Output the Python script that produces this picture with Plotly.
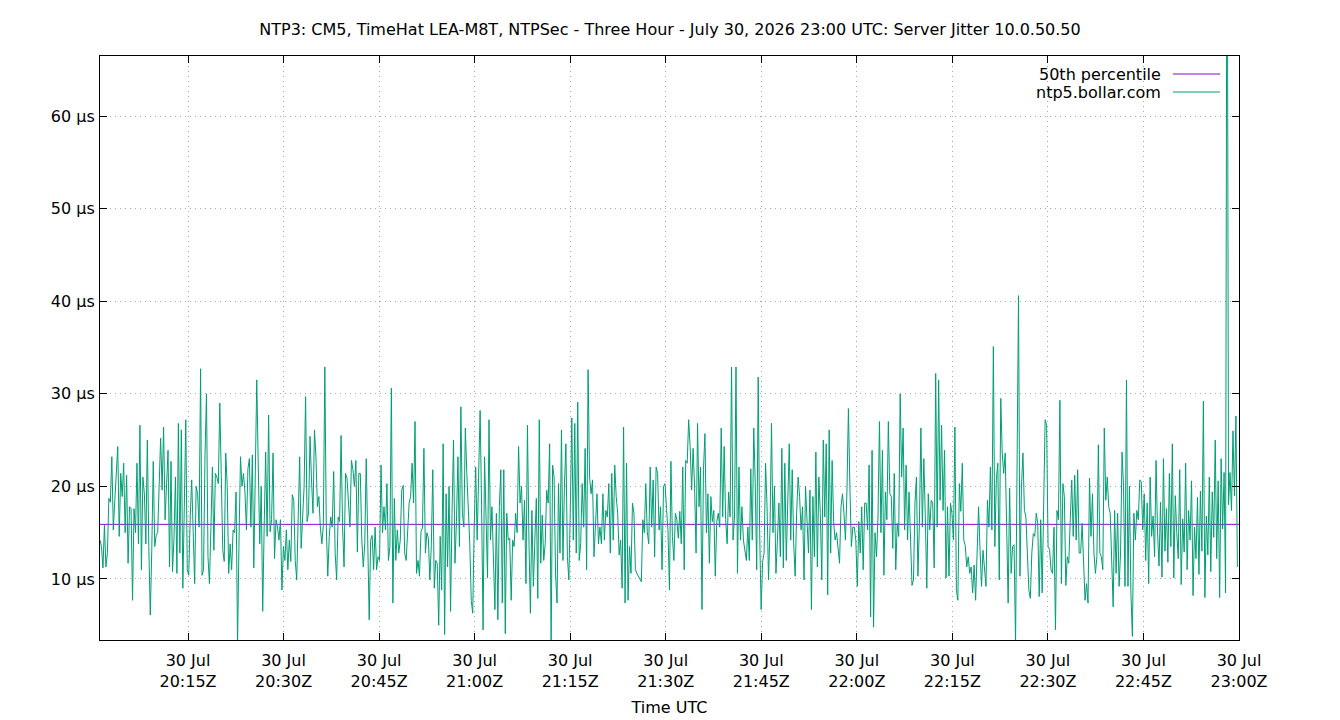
import numpy as np
import pandas as pd
import plotly.graph_objects as go

TITLE = "NTP3: CM5, TimeHat LEA-M8T, NTPSec - Three Hour - July 30, 2026 23:00 UTC: Server Jitter 10.0.50.50"
SERIES_NAME = "ntp5.bollar.com"
P50_NAME = "50th percentile"
P50_VALUE = 15.9
START = "2026-07-30 20:01:11"
END = "2026-07-30 23:00:00"
TICK_TIMES = ["2026-07-30 20:15", "2026-07-30 20:30", "2026-07-30 20:45", "2026-07-30 21:00",
              "2026-07-30 21:15", "2026-07-30 21:30", "2026-07-30 21:45", "2026-07-30 22:00",
              "2026-07-30 22:15", "2026-07-30 22:30", "2026-07-30 22:45", "2026-07-30 23:00"]
TICK_LABELS = ["30 Jul<br>" + t[-5:] + "Z" for t in TICK_TIMES]
Y_TICKS = [10, 20, 30, 40, 50, 60]
Y_LABELS = [f"{v} µs" for v in Y_TICKS]

jitter_a = [14.2, 13.5, 11.2, 15.8, 11.3, 12.8, 18.7, 18.3, 23.2, 15.3, 18.5, 21.4, 24.3, 14.6, 21.4, 18.9,
            22.5, 15.0, 21.2, 11.7, 17.8, 17.6, 7.7, 17.6, 15.0, 22.5, 13.8, 26.6, 11.0, 21.0, 19.2, 13.8,
            25.0, 13.5, 6.1, 13.1, 22.7, 13.5, 14.7, 15.0, 21.6, 25.2, 19.6, 26.4, 16.4, 20.0, 23.9, 11.3,
            22.7, 10.8, 14.2, 21.0, 10.6, 26.8, 12.8, 26.1, 9.0, 17.8, 27.2, 11.0, 10.4, 16.7, 20.7, 15.1,
            9.5, 20.0, 19.2, 15.6, 32.7, 10.4, 11.0, 23.4, 30.0, 12.4, 9.5, 15.6, 22.1, 13.1, 21.4, 21.0,
            20.3, 29.0, 21.2, 13.1, 11.9, 23.6, 20.1, 10.6]
jitter_b = [13.8, 11.0, 15.3, 15.0, 19.4, 3.0, 14.2, 23.2, 20.0, 21.4, 19.4, 15.3, 21.9, 23.0, 15.6, 23.4,
            11.2, 20.9, 31.5, 22.3, 13.8, 20.0, 6.5, 15.6, 23.7, 14.6, 27.7, 15.1, 16.4, 23.6, 12.2, 16.4,
            15.6, 14.2, 16.4, 8.8, 13.5, 12.0, 15.3, 11.0, 14.2, 11.9, 19.1, 18.5, 12.0, 9.9, 16.2, 23.2,
            13.3, 16.7, 20.0, 29.7, 16.2, 17.1, 25.4, 20.7, 17.1, 26.1, 23.2, 17.8, 18.9, 15.5, 13.8, 15.8,
            32.9, 15.6, 10.3, 14.6, 16.7, 15.6, 21.6, 12.8, 9.9, 16.7, 16.2, 25.5, 15.6, 11.3, 21.4, 20.9,
            18.2, 15.6, 22.8, 21.8, 20.0, 22.8, 12.9, 21.4]
jitter_c = [21.4, 14.2, 11.3, 13.8, 23.0, 15.6, 5.6, 14.2, 14.7, 11.0, 15.6, 11.0, 12.4, 12.0, 22.3, 15.0,
            17.8, 15.3, 20.3, 12.0, 13.5, 30.6, 7.4, 18.7, 12.0, 15.3, 12.8, 14.2, 19.6, 20.1, 12.8, 12.0,
            16.0, 18.2, 18.9, 22.5, 18.2, 27.0, 10.6, 12.0, 10.3, 15.1, 15.5, 24.1, 12.8, 15.0, 14.4, 9.9,
            13.6, 21.8, 9.0, 12.0, 11.7, 5.0, 14.6, 8.8, 24.6, 4.0, 19.2, 11.3, 20.0, 6.5, 17.1, 25.0,
            11.7, 16.2, 23.2, 13.5, 28.6, 17.1, 15.6, 26.3, 21.4, 17.8, 13.8, 7.7, 6.3, 15.6, 22.1, 14.2,
            20.7, 28.2, 17.8, 4.5, 23.2, 17.8, 10.1, 27.2, 14.2]
jitter_d = [17.8, 12.8, 6.7, 17.1, 5.6, 17.8, 21.8, 7.4, 21.8, 4.1, 17.1, 14.2, 14.4, 7.7, 14.2, 13.5,
            17.1, 15.0, 24.3, 18.2, 20.0, 14.2, 18.5, 9.5, 26.6, 14.2, 6.3, 17.4, 9.2, 14.2, 18.7, 7.9,
            27.2, 11.7, 16.9, 12.0, 13.8, 19.6, 18.2, 24.6, 3.0, 22.3, 21.0, 10.6, 7.4, 20.3, 12.8, 26.1,
            12.0, 20.0, 24.6, 12.4, 9.9, 17.8, 27.4, 14.2, 26.8, 12.8, 29.1, 12.0, 13.8, 20.3, 15.6, 24.1,
            11.0, 32.6, 21.0, 19.2, 20.7, 12.4, 16.7, 19.2, 13.8, 15.6, 13.8, 19.2, 14.2, 17.4, 16.7, 20.3,
            12.8, 21.4, 14.2, 22.3, 18.9, 17.1, 12.6]
jitter_e = [14.2, 9.0, 26.4, 7.4, 22.5, 7.7, 13.5, 10.6, 18.2, 17.1, 11.0, 10.6, 10.3, 10.1, 9.7, 16.4,
            15.0, 20.3, 15.1, 13.8, 22.1, 15.6, 20.7, 12.4, 22.1, 21.4, 15.3, 17.8, 11.0, 20.0, 20.3, 17.6,
            15.3, 8.8, 22.7, 14.6, 12.0, 17.1, 16.4, 14.4, 17.3, 13.8, 22.1, 11.0, 22.8, 22.5, 27.2, 24.3,
            19.6, 24.1, 20.0, 12.8, 26.8, 17.8, 22.1, 6.7, 21.8, 25.7, 15.0, 19.2, 11.7, 18.9, 16.2, 17.4,
            10.3, 16.2, 17.1, 15.6, 26.3, 16.7, 24.3, 16.4, 13.8, 19.4, 16.7, 32.9, 14.2, 16.7, 32.9, 10.6,
            22.1, 14.2, 17.8, 14.2, 13.3, 12.0]
jitter_f = [15.6, 12.0, 21.9, 14.2, 26.3, 20.3, 11.0, 31.8, 15.0, 6.7, 11.9, 12.8, 22.5, 17.8, 9.9, 15.6,
            26.8, 15.0, 20.0, 10.6, 14.2, 18.2, 12.4, 24.1, 11.2, 22.5, 12.0, 18.2, 24.6, 14.2, 21.8, 13.8,
            10.3, 17.1, 21.0, 18.9, 15.3, 17.8, 9.9, 20.0, 15.6, 12.8, 19.6, 6.7, 18.9, 12.4, 23.7, 11.3,
            21.0, 17.1, 9.9, 25.0, 16.7, 24.6, 8.3, 26.1, 12.8, 22.8, 16.2, 14.2, 15.0, 13.1, 11.7, 17.8,
            19.2, 17.1, 14.2, 19.4, 28.4, 20.0, 13.5, 15.6, 15.6, 14.2, 9.2, 16.2, 12.8, 17.8, 11.0, 18.2]
jitter_g = [18.2, 15.3, 22.3, 5.9, 23.9, 4.8, 15.0, 12.4, 16.7, 27.0, 15.0, 23.9, 10.4, 19.4, 16.4, 27.0,
            19.2, 18.9, 13.3, 21.4, 11.0, 16.0, 14.6, 30.0, 21.0, 26.3, 15.3, 22.3, 14.2, 19.4, 12.8, 9.3,
            9.9, 18.2, 21.0, 10.3, 16.0, 26.3, 15.6, 23.0, 16.7, 9.0, 19.2, 15.3, 18.5, 18.2, 11.2, 32.2,
            15.6, 31.5, 18.5, 26.6, 17.4, 23.9, 10.1, 17.8, 10.3, 18.2, 17.1, 14.2, 26.4, 8.8, 7.7, 20.3,
            17.3, 22.5, 14.2, 13.6, 11.3, 12.4, 10.6, 11.3, 8.5, 11.5, 7.7, 12.8, 17.8, 13.1, 9.2, 13.1,
            10.6, 9.2, 18.5, 15.6, 22.1, 15.3, 35.1, 13.5, 20.7, 22.5, 9.9, 29.5, 23.6, 21.4]
jitter_h = [23.6, 14.6, 7.4, 19.8, 10.6, 13.5, 13.7, 3.0, 22.1, 40.6, 10.3, 20.0, 23.6, 17.4, 16.7, 12.4,
            8.8, 7.9, 12.8, 14.9, 14.6, 17.1, 16.0, 8.1, 16.4, 8.5, 16.4, 27.2, 26.6, 13.5, 13.2, 11.0,
            10.6, 15.6, 4.5, 17.4, 16.4, 29.3, 9.5, 20.3, 18.9, 9.3, 12.4, 11.7, 16.4, 20.7, 14.6, 21.2,
            14.2, 21.8, 12.8, 12.8, 16.0, 11.0, 7.7, 9.5, 7.4, 20.9, 14.6, 19.2, 12.8, 10.6, 12.4, 24.5,
            12.8, 12.4, 11.0, 26.3, 18.5, 21.0, 17.8, 17.1, 12.4, 7.0, 17.4, 10.6, 17.1, 9.2, 12.8, 23.7,
            20.0, 9.2, 31.5, 9.2, 20.0, 8.5, 3.8, 17.1, 14.2, 17.4, 16.4, 20.7]
jitter_i = [20.5, 15.3, 19.2, 12.0, 18.2, 9.5, 21.0, 14.6, 16.8, 12.4, 22.8, 15.1, 11.4, 18.3, 10.2, 23.0,
            13.0, 17.6, 11.8, 21.4, 13.5, 24.6, 10.1, 19.0, 15.0, 12.2, 21.8, 9.4, 16.5, 12.9, 22.5, 11.0,
            17.4, 14.2, 20.6, 8.2, 15.6, 12.2, 18.8, 10.5, 19.5, 13.0, 29.2, 8.0, 16.8, 12.6, 21.0, 10.8,
            19.4, 14.5, 25.0, 12.2, 20.6, 8.0, 23.0, 15.4, 21.5, 8.5, 95.0, 18.0, 21.5, 17.4, 26.0, 19.0,
            27.6, 11.3]

values = jitter_a + jitter_b + jitter_c + jitter_d + jitter_e + jitter_f + jitter_g + jitter_h + jitter_i
times = pd.date_range(START, "2026-07-30 22:59:45", periods=len(values))

GREEN = "#009E73"
PURPLE = "#9400D3"
FONT = "DejaVu Sans"

fig = go.Figure()
fig.add_trace(go.Scatter(x=[START, END], y=[P50_VALUE, P50_VALUE], mode="lines", name=P50_NAME,
                         line=dict(color=PURPLE, width=1)))
fig.add_trace(go.Scatter(x=times, y=values, mode="lines", name=SERIES_NAME,
                         line=dict(color=GREEN, width=1)))

axis_common = dict(showline=True, linecolor="black", linewidth=1, mirror="ticks",
                   ticks="inside", ticklen=7, tickcolor="black", showgrid=True,
                   gridcolor="#a8a8a8", griddash="1px,4px", gridwidth=1, zeroline=False,
                   automargin=False,
                   tickfont=dict(family=FONT, size=16, color="black"))

fig.update_layout(
    width=1340, height=720,
    paper_bgcolor="white", plot_bgcolor="white",
    margin=dict(l=100, r=101, t=56, b=80),
    showlegend=False,
    title=dict(text=TITLE, x=0.5, xanchor="center", y=1 - 29 / 720, yanchor="middle",
               font=dict(family=FONT, size=16, color="black")),
    xaxis=dict(range=[START, END], tickvals=TICK_TIMES, ticktext=TICK_LABELS, ticklabelstandoff=6,
               title=dict(text="Time UTC", font=dict(family=FONT, size=16, color="black"), standoff=11),
               **axis_common),
    yaxis=dict(range=[3.41, 66.48], tickvals=Y_TICKS, ticktext=Y_LABELS, ticklabelstandoff=1,
               **axis_common),
)

# legend drawn gnuplot-style: text right-aligned, sample line to its right
legend_items = [(P50_NAME, PURPLE, 74), (SERIES_NAME, GREEN, 92)]
for name, color, ypx in legend_items:
    yp = 1 - (ypx - 56) / (640 - 56)
    fig.add_annotation(text=name, xref="paper", yref="paper", x=(1163 - 100) / 1139, y=yp,
                       xanchor="right", yanchor="middle", showarrow=False,
                       font=dict(family=FONT, size=16, color="black"))
    fig.add_shape(type="line", xref="paper", yref="paper",
                  x0=(1173 - 100) / 1139, x1=(1220 - 100) / 1139, y0=yp, y1=yp,
                  line=dict(color=color, width=1))

fig.write_html("out.html")
